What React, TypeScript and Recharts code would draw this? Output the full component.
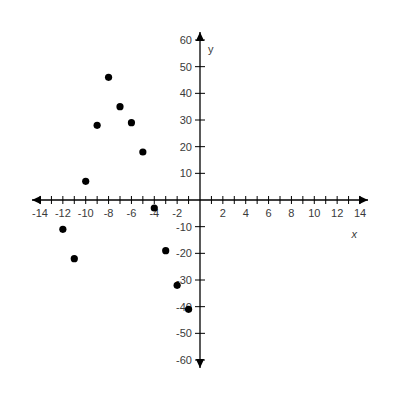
import { ScatterChart, Scatter, XAxis, YAxis, ReferenceLine } from 'recharts';

// data
const pointX = [-12, -11, -10, -9, -8, -7, -6, -5, -4, -3, -2, -1];
const pointY = [-11, -22, 7, 28, 46, 35, 29, 18, -3, -19, -32, -41];

const xTicks = [-14, -13, -12, -11, -10, -9, -8, -7, -6, -5, -4, -3, -2, -1, 1, 2, 3, 4, 5, 6, 7, 8, 9, 10, 11, 12, 13, 14];
const yTicks = [60, 50, 40, 30, 20, 10, -10, -20, -30, -40, -50, -60];

const X_END = 14.7;
const Y_END = 63;

const FONT = 'Liberation Sans, Arial, sans-serif';
const LABEL = '#3a3a3a';

const points = pointX.map((x, i) => ({ x, y: pointY[i] }));
const xTickData = xTicks.map((v) => ({ x: v, y: 0, label: v % 2 === 0 ? String(v) : '' }));
const yTickData = yTicks.map((v) => ({ x: 0, y: v, label: String(v) }));
const arrowData = [
  { x: X_END, y: 0, dir: 'right' },
  { x: -X_END, y: 0, dir: 'left' },
  { x: 0, y: Y_END, dir: 'up' },
  { x: 0, y: -Y_END, dir: 'down' },
];
const axisTitles = [
  { x: 13.5, y: -12.7, text: 'x', italic: true },
  { x: 0.95, y: 56.8, text: 'y', italic: false },
];

function Dot(props: any) {
  const { cx, cy } = props;
  return <circle cx={cx} cy={cy} r={3.6} fill="#000" />;
}

function XTick(props: any) {
  const { cx, cy, payload } = props;
  return (
    <g>
      <line x1={cx} x2={cx} y1={cy - 4} y2={cy + 4} stroke="#000" strokeWidth={1} />
      {payload.label && (
        <text x={cx} y={cy + 17} textAnchor="middle" fontSize={11} fontFamily={FONT} fill={LABEL}>
          {payload.label}
        </text>
      )}
    </g>
  );
}

function YTick(props: any) {
  const { cx, cy, payload } = props;
  return (
    <g>
      <line x1={cx - 5} x2={cx + 5} y1={cy} y2={cy} stroke="#000" strokeWidth={1} />
      <text x={cx - 8} y={cy + 4} textAnchor="end" fontSize={11} fontFamily={FONT} fill={LABEL}>
        {payload.label}
      </text>
    </g>
  );
}

function Arrow(props: any) {
  const { cx, cy, payload } = props;
  const l = 9;
  const w = 4.2;
  let pts = '';
  if (payload.dir === 'right') pts = `${cx},${cy} ${cx - l},${cy - w} ${cx - l},${cy + w}`;
  if (payload.dir === 'left') pts = `${cx},${cy} ${cx + l},${cy - w} ${cx + l},${cy + w}`;
  if (payload.dir === 'up') pts = `${cx},${cy} ${cx - w},${cy + l} ${cx + w},${cy + l}`;
  if (payload.dir === 'down') pts = `${cx},${cy} ${cx - w},${cy - l} ${cx + w},${cy - l}`;
  return <polygon points={pts} fill="#000" />;
}

function Title(props: any) {
  const { cx, cy, payload } = props;
  return (
    <text
      x={cx}
      y={cy + 4}
      textAnchor="middle"
      fontSize={11}
      fontFamily={FONT}
      fontStyle={payload.italic ? 'italic' : 'normal'}
      fill={LABEL}
    >
      {payload.text}
    </text>
  );
}

export default function App() {
  return (
    <div style={{ position: 'absolute', left: 0, top: 0, width: 400, height: 400, background: '#fff' }}>
      <ScatterChart width={400} height={400} margin={{ top: 32, right: 32, bottom: 32, left: 32 }}>
        <XAxis type="number" dataKey="x" domain={[-X_END, X_END]} hide />
        <YAxis type="number" dataKey="y" domain={[-Y_END, Y_END]} hide />
        <ReferenceLine y={0} stroke="#000" strokeWidth={1.3} />
        <ReferenceLine x={0} stroke="#000" strokeWidth={1.3} />
        <Scatter data={xTickData} shape={XTick} isAnimationActive={false} />
        <Scatter data={yTickData} shape={YTick} isAnimationActive={false} />
        <Scatter data={arrowData} shape={Arrow} isAnimationActive={false} />
        <Scatter data={axisTitles} shape={Title} isAnimationActive={false} />
        <Scatter data={points} shape={Dot} isAnimationActive={false} />
      </ScatterChart>
    </div>
  );
}
